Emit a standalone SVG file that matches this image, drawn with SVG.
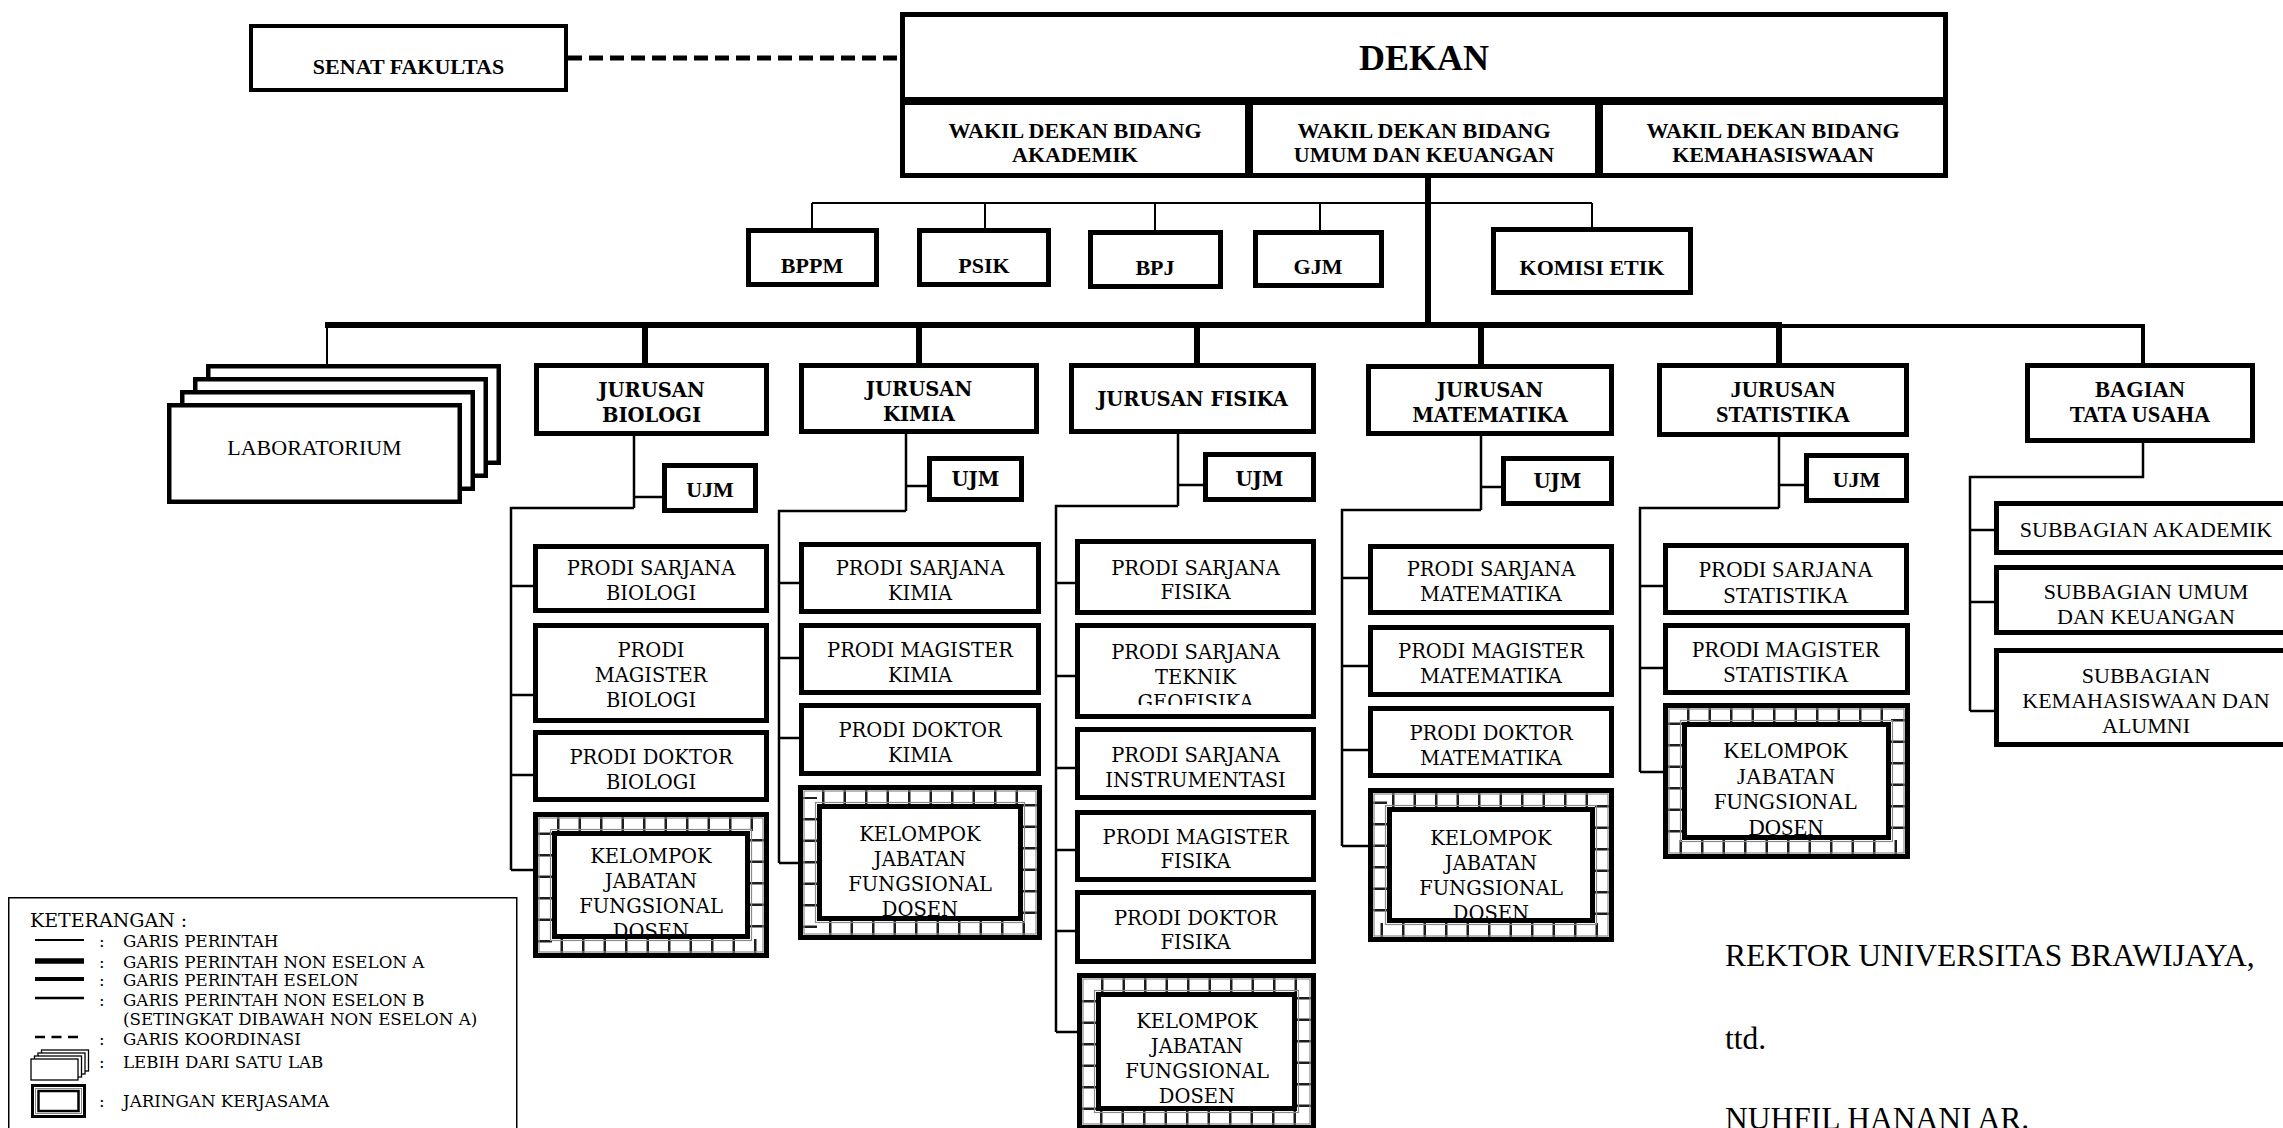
<svg xmlns="http://www.w3.org/2000/svg" width="2283" height="1128" viewBox="0 0 2283 1128">
<style>
  .bx{fill:#fff;stroke:#000;stroke-width:5}
  .lab{fill:#fff;stroke:#000;stroke-width:4.5}
  .ln{fill:none;stroke:#000;stroke-width:2.5}
  .thin{fill:none;stroke:#000;stroke-width:2}
  .bus{fill:none;stroke:#000;stroke-width:6}
  .tk{fill:none;stroke:#1e1e1e;stroke-width:14;stroke-dasharray:2.5 19;stroke-dashoffset:-12}
  .rl{fill:none;stroke:#8a8a8a;stroke-width:1.2}
  text{text-anchor:middle;fill:#000}
  .w{font-family:'DejaVu Serif',serif;font-size:19.5px}
  .wb{font-family:'DejaVu Serif',serif;font-size:19.5px;font-weight:bold}
  .n{font-family:'Liberation Serif','Times New Roman',serif;font-size:22.5px}
  .nb{font-family:'Liberation Serif','Times New Roman',serif;font-size:22px;font-weight:bold}
  .lg{font-family:'DejaVu Serif',serif;font-size:16.7px;text-anchor:start}
  .sig{font-family:'Liberation Serif','Times New Roman',serif;font-size:31.5px;text-anchor:start}
</style>
<defs>
  <clipPath id="clip-geo"><rect x="1080" y="628" width="231" height="77"/></clipPath>
  <clipPath id="clip-kbio"><rect x="557" y="836" width="188" height="99"/></clipPath>
  <clipPath id="clip-kmat"><rect x="1392" y="812" width="198" height="106"/></clipPath>
</defs>
<rect width="2283" height="1128" fill="#fff"/>

<!-- connectors -->
<g id="connectors">
  <line x1="568" y1="58" x2="900" y2="58" stroke="#000" stroke-width="5" stroke-dasharray="14 7"/>
  <path class="bus" d="M1428 178V325"/>
  <path class="thin" d="M812 203H1592M812 203V229M985 203V229M1155 203V231M1320 203V231M1592 203V228"/>
  <path class="bus" d="M325 325H1782M645 325V364M919 325V364M1197 325V364M1481 325V365M1779 325V364"/>
  <path fill="none" stroke="#000" stroke-width="4" d="M1779 326H2143V364"/>
  <path class="thin" d="M327 325V367"/>
  <!-- biologi -->
  <path class="ln" d="M634 436V508M634 497H662M634 508H511V870M511 586H533M511 695H533M511 775H533M511 870H533"/>
  <!-- kimia -->
  <path class="ln" d="M906 434V511M906 486H927M906 511H779V863M779 583H799M779 658H799M779 738H799M779 863H798"/>
  <!-- fisika -->
  <path class="ln" d="M1178 434V506M1178 485H1203M1178 506H1056V1032M1056 583H1075M1056 676H1075M1056 768H1075M1056 850H1075M1056 931H1075M1056 1032H1077"/>
  <!-- matematika -->
  <path class="ln" d="M1481 436V510M1481 487H1501M1481 510H1342V846M1342 578H1368M1342 666H1368M1342 750H1368M1342 846H1368"/>
  <!-- statistika -->
  <path class="ln" d="M1779 437V508M1779 485H1804M1779 508H1640V772M1640 586H1663M1640 668H1663M1640 772H1663"/>
  <!-- tata usaha -->
  <path class="ln" d="M2143 443V477H1970V711M1970 530H1994M1970 602H1994M1970 711H1994"/>
</g>

<!-- top level -->
<g id="senat">
  <rect x="251" y="26" width="315" height="64" fill="#fff" stroke="#000" stroke-width="4"/>
  <text class="nb" x="408.5" y="74" style="font-size:22px">SENAT FAKULTAS</text>
</g>
<g id="dekan">
  <rect class="bx" x="902.5" y="14.5" width="1043" height="85"/>
  <text class="nb" x="1424" y="70" style="font-size:36px">DEKAN</text>
</g>
<g id="wd-akademik">
  <rect class="bx" x="902.5" y="102.5" width="345" height="73"/>
  <text class="nb" x="1075" y="138">WAKIL DEKAN BIDANG</text>
  <text class="nb" x="1075" y="162">AKADEMIK</text>
</g>
<g id="wd-umum">
  <rect class="bx" x="1250.5" y="102.5" width="347" height="73"/>
  <text class="nb" x="1424" y="138">WAKIL DEKAN BIDANG</text>
  <text class="nb" x="1424" y="162">UMUM DAN KEUANGAN</text>
</g>
<g id="wd-kemahasiswaan">
  <rect class="bx" x="1600.5" y="102.5" width="345" height="73"/>
  <text class="nb" x="1773" y="138">WAKIL DEKAN BIDANG</text>
  <text class="nb" x="1773" y="162">KEMAHASISWAAN</text>
</g>

<!-- faculty units -->
<g id="bppm"><rect class="bx" x="748.5" y="230.5" width="128" height="54"/><text class="nb" x="812" y="273">BPPM</text></g>
<g id="psik"><rect class="bx" x="919.5" y="230.5" width="129" height="54"/><text class="nb" x="984" y="273">PSIK</text></g>
<g id="bpj"><rect class="bx" x="1090.5" y="232.5" width="130" height="54"/><text class="nb" x="1155" y="275">BPJ</text></g>
<g id="gjm"><rect class="bx" x="1255.5" y="232.5" width="126" height="53"/><text class="nb" x="1318" y="274">GJM</text></g>
<g id="komisi-etik"><rect class="bx" x="1493.5" y="229.5" width="197" height="63"/><text class="nb" x="1592" y="275">KOMISI ETIK</text></g>

<!-- laboratories (stacked) -->
<g id="laboratorium">
  <rect class="lab" x="208.25" y="366.25" width="290.5" height="96.5"/>
  <rect class="lab" x="195.25" y="379.25" width="290.5" height="96.5"/>
  <rect class="lab" x="182.25" y="392.25" width="290.5" height="96.5"/>
  <rect class="lab" x="169.25" y="405.25" width="290.5" height="96.5"/>
  <text class="n" x="314.5" y="455" style="font-size:22px">LABORATORIUM</text>
</g>

<!-- departments -->
<g id="jur-biologi"><rect class="bx" x="536.5" y="365.5" width="230" height="68"/><text class="wb" x="651.5" y="397">JURUSAN</text><text class="wb" x="651.5" y="422">BIOLOGI</text></g>
<g id="jur-kimia"><rect class="bx" x="801.5" y="365.5" width="235" height="66"/><text class="wb" x="919" y="396">JURUSAN</text><text class="wb" x="919" y="421">KIMIA</text></g>
<g id="jur-fisika"><rect class="bx" x="1071.5" y="365.5" width="242" height="66"/><text class="wb" x="1192.5" y="406">JURUSAN FISIKA</text></g>
<g id="jur-matematika"><rect class="bx" x="1368.5" y="366.5" width="243" height="67"/><text class="wb" x="1490" y="397">JURUSAN</text><text class="wb" x="1490" y="422">MATEMATIKA</text></g>
<g id="jur-statistika"><rect class="bx" x="1659.5" y="365.5" width="247" height="69"/><text class="nb" x="1783" y="397" style="font-size:22.5px">JURUSAN</text><text class="nb" x="1783" y="422" style="font-size:22.5px">STATISTIKA</text></g>
<g id="tata-usaha"><rect class="bx" x="2027.5" y="365.5" width="225" height="75"/><text class="nb" x="2140" y="397" style="font-size:22.5px">BAGIAN</text><text class="nb" x="2140" y="422" style="font-size:22.5px">TATA USAHA</text></g>

<!-- quality units -->
<g id="ujm-biologi"><rect class="bx" x="664.5" y="465.5" width="91" height="45"/><text class="nb" x="710" y="497">UJM</text></g>
<g id="ujm-kimia"><rect class="bx" x="929.5" y="458.5" width="92" height="41"/><text class="wb" x="975.5" y="486">UJM</text></g>
<g id="ujm-fisika"><rect class="bx" x="1205.5" y="454.5" width="108" height="45"/><text class="wb" x="1259.5" y="486">UJM</text></g>
<g id="ujm-matematika"><rect class="bx" x="1503.5" y="458.5" width="108" height="45"/><text class="wb" x="1557.5" y="488">UJM</text></g>
<g id="ujm-statistika"><rect class="bx" x="1806.5" y="455.5" width="100" height="45"/><text class="nb" x="1856.5" y="487">UJM</text></g>

<!-- biologi programmes -->
<g id="bio-s1"><rect class="bx" x="535.5" y="546.5" width="231" height="64"/><text class="w" x="651" y="575">PRODI SARJANA</text><text class="w" x="651" y="600">BIOLOGI</text></g>
<g id="bio-s2"><rect class="bx" x="535.5" y="625.5" width="231" height="95"/><text class="w" x="651" y="657">PRODI</text><text class="w" x="651" y="682">MAGISTER</text><text class="w" x="651" y="707">BIOLOGI</text></g>
<g id="bio-s3"><rect class="bx" x="535.5" y="732.5" width="231" height="67"/><text class="w" x="651" y="764">PRODI DOKTOR</text><text class="w" x="651" y="789">BIOLOGI</text></g>
<g id="bio-kjf">
  <rect class="bx" x="535.5" y="814.5" width="231" height="141"/>
  <rect class="tk" x="545" y="824" width="212" height="122"/>
  <rect class="rl" x="539" y="818" width="224" height="134"/>
  <rect class="rl" x="550.5" y="829.5" width="201" height="111"/>
  <rect class="bx" x="554.5" y="833.5" width="193" height="103"/>
  <g clip-path="url(#clip-kbio)"><text class="w" x="651" y="863">KELOMPOK</text><text class="w" x="651" y="888">JABATAN</text><text class="w" x="651" y="913">FUNGSIONAL</text><text class="w" x="651" y="938">DOSEN</text></g>
</g>

<!-- kimia programmes -->
<g id="kim-s1"><rect class="bx" x="801.5" y="544.5" width="237" height="67"/><text class="w" x="920" y="575">PRODI SARJANA</text><text class="w" x="920" y="600">KIMIA</text></g>
<g id="kim-s2"><rect class="bx" x="801.5" y="625.5" width="237" height="67"/><text class="w" x="920" y="657">PRODI MAGISTER</text><text class="w" x="920" y="682">KIMIA</text></g>
<g id="kim-s3"><rect class="bx" x="801.5" y="705.5" width="237" height="68"/><text class="w" x="920" y="737">PRODI DOKTOR</text><text class="w" x="920" y="762">KIMIA</text></g>
<g id="kim-kjf">
  <rect class="bx" x="800.5" y="787.5" width="239" height="150"/>
  <rect class="tk" x="810" y="797" width="220" height="131"/>
  <rect class="rl" x="804" y="791" width="232" height="143"/>
  <rect class="rl" x="815.5" y="802.5" width="209" height="120"/>
  <rect class="bx" x="819.5" y="806.5" width="201" height="112"/>
  <text class="w" x="920" y="841">KELOMPOK</text><text class="w" x="920" y="866">JABATAN</text><text class="w" x="920" y="891">FUNGSIONAL</text><text class="w" x="920" y="916">DOSEN</text>
</g>

<!-- fisika programmes -->
<g id="fis-s1"><rect class="bx" x="1077.5" y="541.5" width="236" height="71"/><text class="w" x="1195.5" y="575">PRODI SARJANA</text><text class="w" x="1195.5" y="599">FISIKA</text></g>
<g id="fis-geo"><rect class="bx" x="1077.5" y="625.5" width="236" height="91"/>
  <g clip-path="url(#clip-geo)"><text class="w" x="1195.5" y="659">PRODI SARJANA</text><text class="w" x="1195.5" y="684">TEKNIK</text><text class="w" x="1195.5" y="709">GEOFISIKA</text></g></g>
<g id="fis-ins"><rect class="bx" x="1077.5" y="729.5" width="236" height="68"/><text class="w" x="1195.5" y="762">PRODI SARJANA</text><text class="w" x="1195.5" y="787">INSTRUMENTASI</text></g>
<g id="fis-s2"><rect class="bx" x="1077.5" y="812.5" width="236" height="67"/><text class="w" x="1195.5" y="844">PRODI MAGISTER</text><text class="w" x="1195.5" y="868">FISIKA</text></g>
<g id="fis-s3"><rect class="bx" x="1077.5" y="892.5" width="236" height="69"/><text class="w" x="1195.5" y="925">PRODI DOKTOR</text><text class="w" x="1195.5" y="949">FISIKA</text></g>
<g id="fis-kjf">
  <rect class="bx" x="1079.5" y="975.5" width="234" height="152"/>
  <rect class="tk" x="1089" y="985" width="215" height="133"/>
  <rect class="rl" x="1083" y="979" width="227" height="145"/>
  <rect class="rl" x="1094.5" y="990.5" width="204" height="122"/>
  <rect class="bx" x="1098.5" y="994.5" width="196" height="114"/>
  <text class="w" x="1197" y="1028">KELOMPOK</text><text class="w" x="1197" y="1053">JABATAN</text><text class="w" x="1197" y="1078">FUNGSIONAL</text><text class="w" x="1197" y="1103">DOSEN</text>
</g>

<!-- matematika programmes -->
<g id="mat-s1"><rect class="bx" x="1370.5" y="546.5" width="241" height="66"/><text class="w" x="1491" y="576">PRODI SARJANA</text><text class="w" x="1491" y="601">MATEMATIKA</text></g>
<g id="mat-s2"><rect class="bx" x="1370.5" y="627.5" width="241" height="67"/><text class="w" x="1491" y="658">PRODI MAGISTER</text><text class="w" x="1491" y="683">MATEMATIKA</text></g>
<g id="mat-s3"><rect class="bx" x="1370.5" y="708.5" width="241" height="67"/><text class="w" x="1491" y="740">PRODI DOKTOR</text><text class="w" x="1491" y="765">MATEMATIKA</text></g>
<g id="mat-kjf">
  <rect class="bx" x="1370.5" y="790.5" width="241" height="149"/>
  <rect class="tk" x="1380" y="800" width="222" height="130"/>
  <rect class="rl" x="1374" y="794" width="234" height="142"/>
  <rect class="rl" x="1385.5" y="805.5" width="211" height="119"/>
  <rect class="bx" x="1389.5" y="809.5" width="203" height="111"/>
  <g clip-path="url(#clip-kmat)"><text class="w" x="1491" y="845">KELOMPOK</text><text class="w" x="1491" y="870">JABATAN</text><text class="w" x="1491" y="895">FUNGSIONAL</text><text class="w" x="1491" y="920">DOSEN</text></g>
</g>

<!-- statistika programmes -->
<g id="sta-s1"><rect class="bx" x="1665.5" y="545.5" width="241" height="67"/><text class="n" x="1786" y="577">PRODI SARJANA</text><text class="n" x="1786" y="603">STATISTIKA</text></g>
<g id="sta-s2"><rect class="bx" x="1665.5" y="625.5" width="242" height="67"/><text class="n" x="1786" y="657">PRODI MAGISTER</text><text class="n" x="1786" y="682">STATISTIKA</text></g>
<g id="sta-kjf">
  <rect class="bx" x="1665.5" y="705.5" width="242" height="151"/>
  <rect class="tk" x="1675" y="715" width="223" height="132"/>
  <rect class="rl" x="1669" y="709" width="235" height="144"/>
  <rect class="rl" x="1680.5" y="720.5" width="212" height="121"/>
  <rect class="bx" x="1684.5" y="724.5" width="204" height="113"/>
  <text class="n" x="1786" y="758">KELOMPOK</text><text class="n" x="1786" y="783.5">JABATAN</text><text class="n" x="1786" y="809">FUNGSIONAL</text><text class="n" x="1786" y="834.5">DOSEN</text>
</g>

<!-- administration sub-sections -->
<g id="sub-akademik"><rect class="bx" x="1996.5" y="503.5" width="310" height="49"/><text class="n" x="2146" y="537" style="font-size:22px">SUBBAGIAN AKADEMIK</text></g>
<g id="sub-umum"><rect class="bx" x="1996.5" y="567.5" width="310" height="65"/><text class="n" x="2146" y="599" style="font-size:22px">SUBBAGIAN UMUM</text><text class="n" x="2146" y="624" style="font-size:22px">DAN KEUANGAN</text></g>
<g id="sub-kemahasiswaan"><rect class="bx" x="1996.5" y="650.5" width="310" height="94"/><text class="n" x="2146" y="683" style="font-size:22px">SUBBAGIAN</text><text class="n" x="2146" y="708" style="font-size:22px">KEMAHASISWAAN DAN</text><text class="n" x="2146" y="733" style="font-size:22px">ALUMNI</text></g>

<!-- legend -->
<g id="legend">
  <rect x="8.75" y="897.75" width="508" height="245" fill="#fff" stroke="#000" stroke-width="1.5"/>
  <text class="lg" x="30" y="927" style="font-size:19px">KETERANGAN :</text>
  <line x1="35" y1="940" x2="84" y2="940" stroke="#000" stroke-width="2"/>
  <line x1="35" y1="961" x2="84" y2="961" stroke="#000" stroke-width="5.5"/>
  <line x1="35" y1="979" x2="84" y2="979" stroke="#000" stroke-width="4"/>
  <line x1="35" y1="998" x2="84" y2="998" stroke="#000" stroke-width="2.5"/>
  <line x1="35" y1="1037" x2="84" y2="1037" stroke="#000" stroke-width="2.5" stroke-dasharray="10 6.5"/>
  <g fill="#fff" stroke="#000" stroke-width="1.3">
    <rect x="41.5" y="1050" width="47" height="21"/>
    <rect x="38" y="1053" width="47" height="21"/>
    <rect x="34.5" y="1056" width="47" height="21"/>
    <rect x="31" y="1059" width="47" height="21"/>
  </g>
  <rect x="32.5" y="1085.5" width="52" height="31" fill="#fff" stroke="#000" stroke-width="3"/>
  <rect x="35.5" y="1088.5" width="46" height="25" fill="none" stroke="#888" stroke-width="1"/>
  <rect x="38.5" y="1091" width="40" height="20" fill="#fff" stroke="#000" stroke-width="2.5"/>
  <text class="lg" x="99" y="947">:</text><text class="lg" x="123" y="947">GARIS PERINTAH</text>
  <text class="lg" x="99" y="968">:</text><text class="lg" x="123" y="968">GARIS PERINTAH NON ESELON A</text>
  <text class="lg" x="99" y="986">:</text><text class="lg" x="123" y="986">GARIS PERINTAH ESELON</text>
  <text class="lg" x="99" y="1006">:</text><text class="lg" x="123" y="1006">GARIS PERINTAH NON ESELON B</text>
  <text class="lg" x="123" y="1025">(SETINGKAT DIBAWAH NON ESELON A)</text>
  <text class="lg" x="99" y="1045">:</text><text class="lg" x="123" y="1045">GARIS KOORDINASI</text>
  <text class="lg" x="99" y="1068">:</text><text class="lg" x="123" y="1068">LEBIH DARI SATU LAB</text>
  <text class="lg" x="99" y="1107">:</text><text class="lg" x="123" y="1107">JARINGAN KERJASAMA</text>
</g>

<!-- signature block -->
<g id="signature">
  <text class="sig" x="1725" y="966">REKTOR UNIVERSITAS BRAWIJAYA,</text>
  <text class="sig" x="1725" y="1049">ttd.</text>
  <text class="sig" x="1725" y="1129">NUHFIL HANANI AR.</text>
</g>
</svg>
